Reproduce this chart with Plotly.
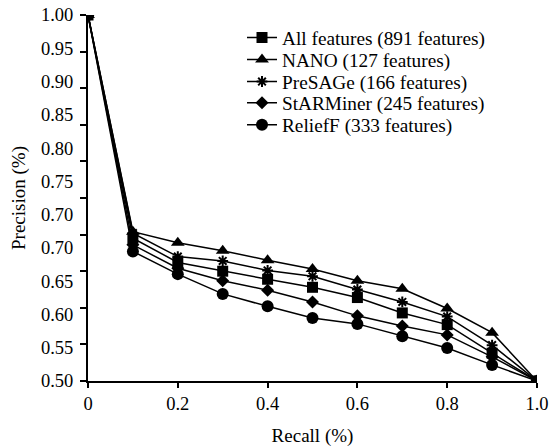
import plotly.graph_objects as go

recall = [0.0, 0.1, 0.2, 0.3, 0.4, 0.5, 0.6, 0.7, 0.8, 0.9, 1.0]

series_names = [
    "All features (891 features)",
    "NANO (127 features)",
    "PreSAGe (166 features)",
    "StARMiner (245 features)",
    "ReliefF (333 features)",
]

all_features = [1.00, 0.695, 0.662, 0.650, 0.639, 0.628, 0.614, 0.593, 0.577, 0.538, 0.50]
nano = [1.00, 0.704, 0.689, 0.678, 0.665, 0.653, 0.637, 0.626, 0.599, 0.566, 0.50]
presage = [1.00, 0.702, 0.670, 0.664, 0.651, 0.643, 0.625, 0.608, 0.588, 0.549, 0.50]
starminer = [1.00, 0.686, 0.654, 0.637, 0.624, 0.608, 0.589, 0.575, 0.563, 0.533, 0.50]
relieff = [1.00, 0.677, 0.646, 0.619, 0.602, 0.586, 0.578, 0.561, 0.545, 0.522, 0.50]

x_ticks = [0, 0.2, 0.4, 0.6, 0.8, 1.0]
x_tick_labels = ["0", "0.2", "0.4", "0.6", "0.8", "1.0"]
y_ticks = [0.50, 0.55, 0.60, 0.65, 0.70, 0.75, 0.80, 0.85, 0.90, 0.95, 1.00]
y_tick_labels = ["0.50", "0.55", "0.60", "0.65", "0.70", "0.70",
                 "0.75", "0.80", "0.85", "0.90", "0.95", "1.00"]

series = [all_features, nano, presage, starminer, relieff]
symbols = ["square", "triangle-up", "asterisk-open", "diamond", "circle"]
sizes = [11, 12, 9, 10, 12]
legend_ids = ["legend", "legend2", "legend3", "legend4", "legend5"]
legend_y = [0.937, 0.877, 0.817, 0.759, 0.699]

FONT = "Liberation Serif"
FS = 18.5

fig = go.Figure()
for name, vals, sym, sz, lid in zip(series_names, series, symbols, sizes, legend_ids):
    fig.add_trace(go.Scatter(
        x=recall, y=vals, name=name, mode="lines+markers", legend=lid,
        line=dict(color="black", width=1.5),
        marker=dict(symbol=sym, size=sz, color="black",
                    line=dict(color="black", width=2 if "asterisk" in sym else 0)),
    ))

# invisible trace on the label axis
fig.add_trace(go.Scatter(x=[0], y=[0], yaxis="y2", mode="markers",
                         marker=dict(opacity=0), showlegend=False, hoverinfo="skip"))

legend_common = dict(x=0.343, xanchor="left", yanchor="middle",
                     font=dict(family=FONT, size=19.3), bgcolor="rgba(0,0,0,0)",
                     itemwidth=30)
layout_legends = {}
for lid, ly in zip(legend_ids, legend_y):
    layout_legends[lid] = dict(legend_common, y=ly)

fig.update_layout(
    width=551, height=448,
    margin=dict(l=88, r=14, t=15, b=67, autoexpand=False),
    paper_bgcolor="white", plot_bgcolor="white",
    font=dict(family=FONT, size=FS, color="black"),
    showlegend=True,
    xaxis=dict(range=[0, 1.0], tickvals=x_ticks, ticktext=x_tick_labels,
               showgrid=False, zeroline=False, showline=True, linecolor="black",
               linewidth=2, ticks="outside", ticklen=5, tickwidth=2, tickcolor="black",
               automargin=False,
               title=dict(text="Recall (%)", standoff=15, font=dict(size=19))),
    yaxis=dict(range=[0.5, 1.0], tickvals=y_ticks, showticklabels=False,
               showgrid=False, zeroline=False, showline=True, linecolor="black",
               linewidth=2, ticks="outside", ticklen=6, tickwidth=2, tickcolor="black",
               automargin=False),
    yaxis2=dict(range=[0, 11], overlaying="y", side="left",
                tickvals=list(range(12)), ticktext=y_tick_labels,
                showgrid=False, zeroline=False, showline=False, automargin=False,
                ticks="outside", ticklen=10, tickcolor="rgba(0,0,0,0)",
                title=dict(text="Precision (%)", standoff=10, font=dict(size=19))),
    **layout_legends,
)

fig.write_html("out.html", config={"displayModeBar": False},
               post_script="document.body.style.margin='0px';")
